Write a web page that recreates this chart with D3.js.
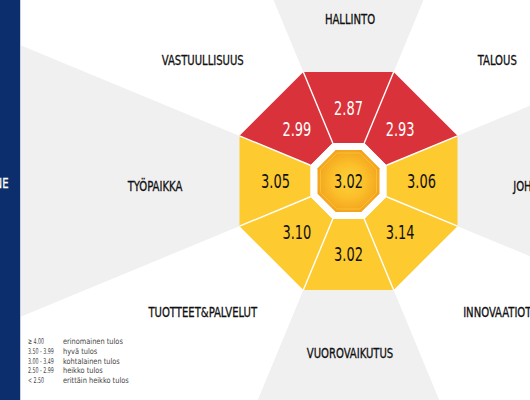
<!DOCTYPE html>
<html><head><meta charset="utf-8">
<script src="https://cdn.jsdelivr.net/npm/d3@7/dist/d3.min.js"></script>
<style>html,body{margin:0;padding:0;background:#fff;}svg{display:block;}</style>
</head><body>
<script>
const categories = ["HALLINTO","TALOUS","JOHTAMINEN","INNOVAATIOT","VUOROVAIKUTUS","TUOTTEET&PALVELUT","TYÖPAIKKA","VASTUULLISUUS"];
const values = [2.87, 2.93, 3.06, 3.14, 3.02, 3.10, 3.05, 2.99];
const overall = 3.02;
const legendRanges = ["≥ 4.00","3.50 - 3.99","3.00 - 3.49","2.50 - 2.99","< 2.50"];
const legendLabels = ["erinomainen tulos","hyvä tulos","kohtalainen tulos","heikko tulos","erittäin heikko tulos"];
const thresholds = [2.5, 3.0, 3.5, 4.0];
const levelColors = ["#a11e22","#d9323a","#fdca30","#9ccc3c","#3aa04a"];
const sideTitle = "NE";

const W = 530, H = 400;
const cx = 348.5, cy = 181;
const apoOut = 109, apoRing = 38, apoCore = 31;
const k = 1 / Math.cos(Math.PI / 8);
const color = d3.scaleThreshold().domain(thresholds).range(levelColors);
const angle = d3.scaleLinear().domain([0, categories.length]).range([0, 2 * Math.PI]);
const pt = (r, a) => [cx + r * Math.sin(a), cy - r * Math.cos(a)];
const half = Math.PI / categories.length;
const font = "'Liberation Sans Narrow','DejaVu Sans Condensed',sans-serif";

const svg = d3.select("body").append("svg").attr("width", W).attr("height", H);
const defs = svg.append("defs");
const rg = defs.append("radialGradient").attr("id", "core").attr("cx", "50%").attr("cy", "50%").attr("r", "55%");
rg.append("stop").attr("offset", "0%").attr("stop-color", "#fdd23a");
rg.append("stop").attr("offset", "50%").attr("stop-color", "#fbbf2a");
rg.append("stop").attr("offset", "100%").attr("stop-color", "#f29f1b");

svg.append("rect").attr("width", W).attr("height", H).attr("fill", "#fff");

// grey background sectors
svg.selectAll("path.sector").data(categories.filter((d, i) => i % 2 === 0)).join("path")
  .attr("class", "sector")
  .attr("d", (d) => {
    const i = categories.indexOf(d), a = angle(i);
    return "M" + [cx, cy] + "L" + pt(900, a - half) + "L" + pt(900, a + half) + "Z";
  })
  .attr("fill", "#f0f0f0");

// segments
svg.selectAll("path.seg").data(values).join("path")
  .attr("class", "seg")
  .attr("d", (d, i) => {
    const a = angle(i);
    return "M" + pt(apoRing * k, a - half) + "L" + pt(apoOut * k, a - half) + "L" + pt(apoOut * k, a + half) + "L" + pt(apoRing * k, a + half) + "Z";
  })
  .attr("fill", d => color(d));
svg.selectAll("line.div").data(values).join("line")
  .attr("class", "div")
  .attr("x1", (d, i) => pt(apoRing * k, angle(i) - half)[0])
  .attr("y1", (d, i) => pt(apoRing * k, angle(i) - half)[1])
  .attr("x2", (d, i) => pt(apoOut * k, angle(i) - half)[0])
  .attr("y2", (d, i) => pt(apoOut * k, angle(i) - half)[1])
  .attr("stroke", "#fff").attr("stroke-width", 1.4);

// white ring & core
const octa = (r) => "M" + d3.range(8).map(j => pt(r * k, angle(j) - half)).join("L") + "Z";
svg.append("path").attr("d", octa(apoRing)).attr("fill", "#fff");
svg.append("path").attr("d", octa(apoCore)).attr("fill", "url(#core)");
svg.append("path").attr("d", octa(apoCore - 3)).attr("fill", "none").attr("stroke", "#fccf45").attr("stroke-opacity", 0.6).attr("stroke-width", 1);

// segment values
const numScale = 0.76;
svg.selectAll("g.val").data(values).join("g")
  .attr("class", "val")
  .attr("transform", (d, i) => {
    const q = pt(73, angle(i));
    return `translate(${q[0]},${q[1] + 6.5}) scale(${numScale},1)`;
  })
  .append("text")
  .attr("text-anchor", "middle")
  .attr("font-family", font).attr("font-size", 19)
  .attr("fill", d => d < 3 ? "#fff" : "#111")
  .text(d => d.toFixed(2));

svg.append("g").attr("transform", `translate(${cx},${cy + 7}) scale(${numScale},1)`)
  .append("text")
  .attr("text-anchor", "middle").attr("font-family", font).attr("font-size", 19).attr("fill", "#111")
  .text(overall.toFixed(2));

// category labels
const sgn = v => v < 0 ? -1 : 1;
const p = 0.81;
const labScale = 0.8;
svg.selectAll("g.lab").data(categories).join("g")
  .attr("class", "lab")
  .attr("transform", (d, i) => {
    const a = angle(i), s = Math.sin(a), c = Math.cos(a);
    const x = 350 + 195 * sgn(s) * Math.pow(Math.abs(s), p);
    const y = 186 - 167 * sgn(c) * Math.pow(Math.abs(c), p) + 5;
    return `translate(${x},${y}) scale(${labScale},1)`;
  })
  .append("text")
  .attr("text-anchor", "middle")
  .attr("font-family", font).attr("font-size", 14).attr("fill", "#111")
  .attr("stroke", "#111").attr("stroke-width", 0.3)
  .text(d => d);

// left navy strip
svg.append("rect").attr("x", 0).attr("y", 0).attr("width", 20).attr("height", H).attr("fill", "#0c2e6c");
svg.append("line").attr("x1", 20.5).attr("x2", 20.5).attr("y1", 0).attr("y2", H).attr("stroke", "#c9d1e3").attr("stroke-width", 1);
svg.append("g").attr("transform", `translate(8.5,188) scale(${labScale},1)`)
  .append("text").attr("text-anchor", "end").attr("font-family", font).attr("font-size", 14)
  .attr("fill", "#fff").attr("stroke", "#fff").attr("stroke-width", 0.3).text(sideTitle);

// legend
const lg = svg.append("g").attr("font-family", font).attr("font-size", 8).attr("fill", "#444");
const ly = d3.scalePoint().domain(d3.range(legendRanges.length)).range([344, 383]);
lg.selectAll("g.r").data(legendRanges).join("g").attr("class", "r")
  .attr("transform", (d, i) => `translate(28,${ly(i)}) scale(0.66,1)`)
  .append("text").text(d => d);
lg.selectAll("g.l").data(legendLabels).join("g").attr("class", "l")
  .attr("transform", (d, i) => `translate(63,${ly(i)}) scale(0.92,1)`)
  .append("text").text(d => d);
</script>
</body></html>
